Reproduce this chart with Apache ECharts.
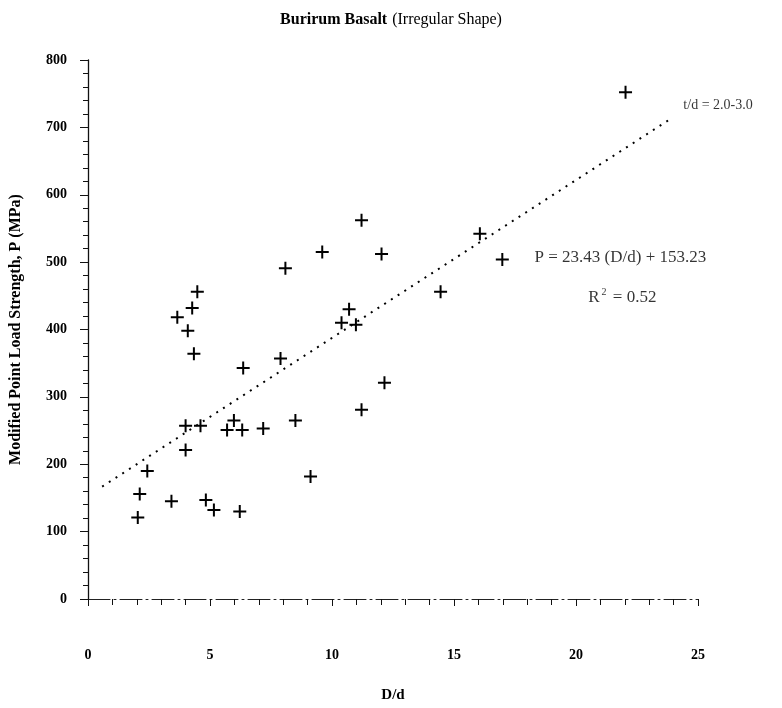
<!DOCTYPE html>
<html><head><meta charset="utf-8">
<script src="https://cdn.jsdelivr.net/npm/echarts@6/dist/echarts.min.js"></script>
<style>html,body{margin:0;padding:0;background:#fff;overflow:hidden}#c{width:782px;height:708px}</style>
</head><body><div id="c"></div>
<script>
// D/d ratio and modified point load strength (MPa)
const ratioDd = [22.03, 11.21, 16.06, 9.60, 12.03, 16.98, 8.09, 4.48, 14.45, 4.27, 10.70, 3.66, 10.39, 10.98, 4.09, 4.34, 7.89, 6.36, 12.15, 11.21, 8.50, 5.98, 4.00, 4.61, 5.70, 6.32, 7.18, 4.00, 2.43, 2.12, 2.04, 3.42, 4.83, 5.16, 6.22, 9.12];
const strengthP = [752, 562, 542, 515, 512, 504, 491, 456, 456, 432, 430, 418, 410, 407, 398, 364, 357, 343, 321, 281, 265, 265, 257, 257, 251, 251, 253, 221, 190, 156, 121, 145, 147, 132, 130, 182];
const fitSlope = 23.43;
const fitIntercept = 153.23;
const fitRange = [0.58, 23.87];
const xTickLabels = [0, 5, 10, 15, 20, 25];
const yTickLabels = [0, 100, 200, 300, 400, 500, 600, 700, 800];
const titleMain = 'Burirum Basalt';
const titleSub = '(Irregular Shape)';
const xName = 'D/d';
const yName = 'Modified Point Load Strength, P (MPa)';
const annTd = { pos: [24.4, 732], text: 't/d = 2.0-3.0' };
const annEq = { pos: [18.3, 507], text: 'P = 23.43 (D/d) + 153.23' };
const annR2 = { pos: [20.5, 448], text: '0.52' };

const FONT = '"Liberation Serif","Times New Roman",serif';
const points = ratioDd.map((x, i) => [x, strengthP[i]]);
const fitLine = fitRange.map(x => [x, fitSlope * x + fitIntercept]);
const plus = 'path://M-1,-6.5 L1,-6.5 L1,-1 L6.5,-1 L6.5,1 L1,1 L1,6.5 L-1,6.5 L-1,1 L-6.5,1 L-6.5,-1 L-1,-1 Z';

const chart = echarts.init(document.getElementById('c'), null, { width: 782, height: 708 });
chart.setOption({
  animation: false,
  backgroundColor: '#fff',
  title: {
    text: '{b|' + titleMain + '} {n|' + titleSub + '}',
    left: 'center', top: 6,
    textStyle: {
      rich: {
        b: { fontFamily: FONT, fontSize: 16, fontWeight: 'bold', color: '#000' },
        n: { fontFamily: FONT, fontSize: 16, fontWeight: 'normal', color: '#000' }
      }
    }
  },
  grid: { left: 87.5, right: 84, top: 60, bottom: 107, containLabel: false },
  xAxis: {
    type: 'value', min: 0, max: 25, interval: 5,
    name: xName, nameLocation: 'middle', nameGap: 89,
    nameTextStyle: { fontFamily: FONT, fontSize: 15, fontWeight: 'bold', color: '#000' },
    axisLine: { onZero: false, lineStyle: { color: '#222', width: 1, type: [22, 4, 2, 4] } },
    axisTick: { show: true, inside: false, length: 7, lineStyle: { color: '#111', width: 1 } },
    minorTick: { show: true, splitNumber: 5, length: 6, lineStyle: { color: '#111', width: 1 } },
    splitLine: { show: false },
    axisLabel: {
      margin: 49, fontFamily: FONT, fontSize: 14, fontWeight: 'bold', color: '#000',
      formatter: v => xTickLabels.includes(v) ? String(v) : ''
    }
  },
  yAxis: {
    type: 'value', min: 0, max: 800, interval: 100,
    name: yName, nameLocation: 'middle', nameGap: 64,
    nameTextStyle: { fontFamily: FONT, fontSize: 16, fontWeight: 'bold', color: '#000' },
    axisLine: { show: true, onZero: false, lineStyle: { color: '#111', width: 1.3 } },
    axisTick: { show: true, inside: false, length: 8, lineStyle: { color: '#111', width: 1 } },
    minorTick: { show: true, splitNumber: 5, length: 5, lineStyle: { color: '#111', width: 1 } },
    splitLine: { show: false },
    axisLabel: {
      margin: 21, fontFamily: FONT, fontSize: 14, fontWeight: 'bold', color: '#000',
      formatter: v => yTickLabels.includes(v) ? String(v) : ''
    }
  },
  series: [
    {
      type: 'scatter', data: points, symbol: plus, symbolSize: 13,
      itemStyle: { color: '#000', opacity: 1 }, z: 3
    },
    {
      type: 'line', data: fitLine, symbol: 'none',
      lineStyle: { color: '#000', width: 2, type: [2, 6] }, z: 2
    },
    {
      type: 'scatter', symbolSize: 0, silent: true,
      data: [
        { value: annTd.pos, label: { formatter: annTd.text, fontSize: 14 } },
        { value: annEq.pos, label: { formatter: annEq.text, fontSize: 17 } },
        { value: annR2.pos, label: { formatter: '{a|R}{s|2}{a| = ' + annR2.text + '}' } }
      ],
      label: {
        show: true, position: 'right', distance: 0,
        fontFamily: FONT, fontSize: 17, color: '#000',
        rich: {
          a: { fontFamily: FONT, fontSize: 17, color: '#000' },
          s: { fontFamily: FONT, fontSize: 10, color: '#000', padding: [0, 2, 10, 2] }
        }
      }
    }
  ]
});
</script></body></html>
